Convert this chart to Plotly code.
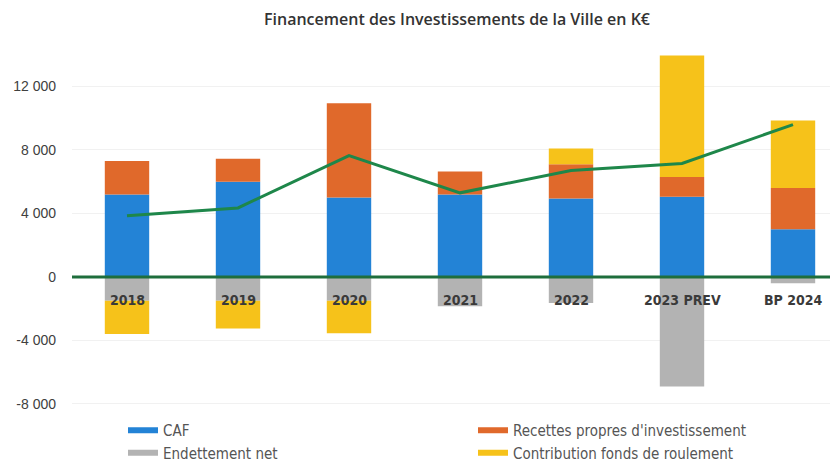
import plotly.graph_objects as go

categories = ["2018", "2019", "2020", "2021", "2022", "2023 PREV", "BP 2024"]
caf = [5200, 6000, 5000, 5200, 4950, 5050, 3000]
recettes = [2100, 1450, 5950, 1450, 2150, 1250, 2600]
endettement = [-1500, -1500, -1500, -1850, -1650, -6900, -400]
contribution = [-2100, -1750, -2050, 0, 1000, 7650, 4250]
total_line = [3850, 4350, 7650, 5300, 6700, 7150, 9600]

series_names = ["CAF", "Recettes propres d'investissement", "Endettement net", "Contribution fonds de roulement"]
series_values = [caf, recettes, endettement, contribution]
series_colors = ["#2383d6", "#e0692b", "#b3b3b3", "#f6c21a"]

tick_vals = [-8000, -4000, 0, 4000, 8000, 12000]
tick_text = ["-8 000", "-4 000", "0", "4 000", "8 000", "12 000"]

W, H = 838, 463
LEFT = 64
TOP = 42
BOTTOM_PLOT = 407
paper_h = H - TOP  # margin b = 0
plot_w = W - LEFT
px_per_cat = 111.0
x0 = -(119 - LEFT) / px_per_cat
x1 = x0 + plot_w / px_per_cat

fig = go.Figure()
for name, vals, col in zip(series_names, series_values, series_colors):
    fig.add_trace(go.Bar(x=categories, y=vals, name=name, marker_color=col,
                         marker_line_width=0, width=0.4, showlegend=False))

fig.add_trace(go.Scatter(x=categories, y=total_line, mode="lines",
                         line=dict(color="#1e874a", width=3), showlegend=False))

# legend entries (wide swatches)
for name, col in zip(series_names, series_colors):
    fig.add_trace(go.Scatter(x=[None], y=[None], mode="lines", name=name,
                             line=dict(color=col, width=6), showlegend=True))

for i, c in enumerate(categories):
    fig.add_annotation(x=i, y=0, text=c, showarrow=False, yanchor="middle", yshift=-23,
                       font=dict(family="DejaVu Sans Condensed", size=14, color="#3a3a3a",
                                 weight="bold"))

fig.add_shape(type="line", xref="paper", x0=0, x1=1, yref="y", y0=0, y1=0,
              line=dict(color="#1e6e3c", width=3), layer="above")

fig.update_layout(
    width=W, height=H,
    margin=dict(l=LEFT, r=0, t=TOP, b=0, autoexpand=False),
    paper_bgcolor="white", plot_bgcolor="white",
    barmode="relative",
    title=dict(text="Financement des Investissements de la Ville en K€", x=449 / W, xref="container",
               y=1 - 11 / H, yref="container", yanchor="middle", xanchor="center",
               font=dict(family="Open Sans", size=16, color="#333333", weight=600)),
    xaxis=dict(type="category", range=[x0, x1], showticklabels=False, showgrid=False,
               zeroline=False, showline=False, ticks="", automargin=False),
    yaxis=dict(range=[-8700, 14300], tickvals=tick_vals, ticktext=tick_text,
               domain=[(H - BOTTOM_PLOT) / paper_h, 1], automargin=False,
               showgrid=True, gridcolor="#f1f1f1", zeroline=False, showline=False,
               tickfont=dict(family="Liberation Sans", size=14, color="#404040"),
               ticklabelstandoff=15),
    legend=dict(orientation="h", x=(115 - LEFT) / plot_w, xanchor="left",
                y=(H - 406) / paper_h, yanchor="top", entrywidth=305, entrywidthmode="pixels",
                traceorder="normal",
                font=dict(family="DejaVu Sans Condensed", size=15, color="#555555")),
)

fig.write_html("out.html")
